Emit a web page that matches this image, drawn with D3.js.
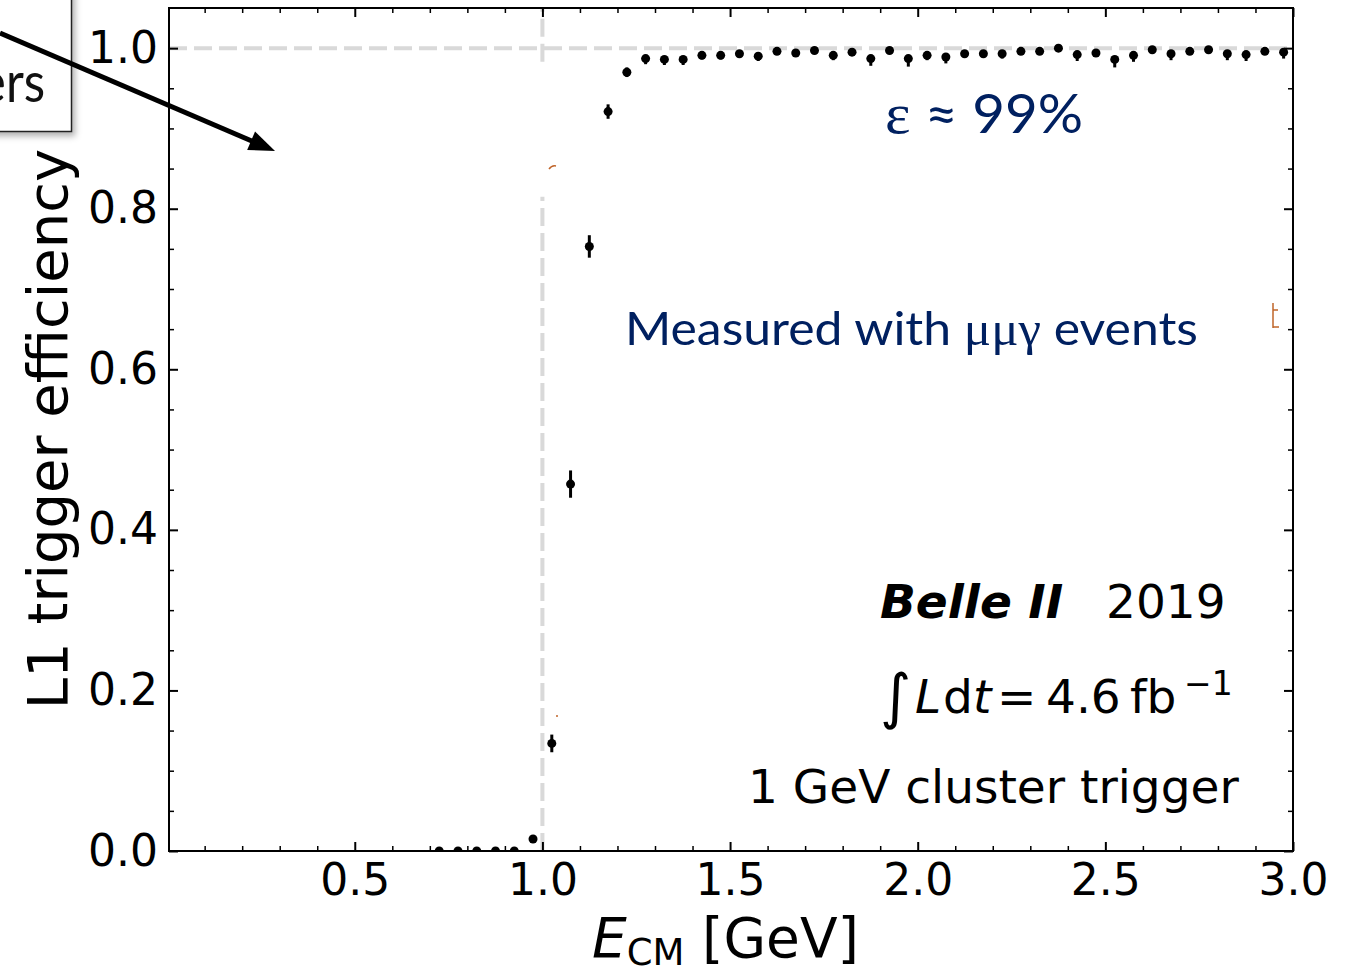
<!DOCTYPE html>
<html>
<head>
<meta charset="utf-8">
<script src="https://cdn.jsdelivr.net/npm/d3@7"></script>
<style>
  html, body { margin: 0; padding: 0; background: #fff; overflow: hidden; }
  svg { display: block; }
</style>
</head>
<body>
<svg id="chart" width="1347" height="966"></svg>
<script>
// bin centres of E_CM [GeV]
const energy = [
  0.725, 0.775, 0.825, 0.875, 0.925, 0.975, 1.025, 1.075, 1.125, 1.175,
  1.225, 1.275, 1.325, 1.375, 1.425, 1.475, 1.525, 1.575, 1.625, 1.675,
  1.725, 1.775, 1.825, 1.875, 1.925, 1.975, 2.025, 2.075, 2.125, 2.175,
  2.225, 2.275, 2.325, 2.375, 2.425, 2.475, 2.525, 2.575, 2.625, 2.675,
  2.725, 2.775, 2.825, 2.875, 2.925, 2.975
]
// L1 trigger efficiency per bin
const efficiency = [
  0.000, 0.000, 0.000, 0.000, 0.000, 0.015, 0.134, 0.457, 0.753, 0.921,
  0.970, 0.987, 0.986, 0.986, 0.991, 0.991, 0.993, 0.990, 0.996, 0.994,
  0.997, 0.991, 0.995, 0.987, 0.997, 0.987, 0.991, 0.989, 0.993, 0.993,
  0.993, 0.996, 0.996, 1.000, 0.992, 0.994, 0.986, 0.991, 0.998, 0.993,
  0.996, 0.998, 0.993, 0.992, 0.996, 0.995
]
const errLow = [
  0.000, 0.000, 0.000, 0.000, 0.000, 0.004, 0.011, 0.017, 0.014, 0.009,
  0.006, 0.007, 0.007, 0.007, 0.005, 0.005, 0.005, 0.006, 0.004, 0.005,
  0.004, 0.006, 0.004, 0.009, 0.004, 0.010, 0.006, 0.008, 0.005, 0.005,
  0.006, 0.004, 0.004, 0.003, 0.008, 0.005, 0.010, 0.008, 0.004, 0.008,
  0.004, 0.004, 0.008, 0.008, 0.004, 0.008
]
const errHigh = [
  0.004, 0.004, 0.004, 0.004, 0.004, 0.004, 0.011, 0.017, 0.014, 0.009,
  0.006, 0.003, 0.003, 0.003, 0.003, 0.003, 0.003, 0.003, 0.003, 0.003,
  0.003, 0.003, 0.003, 0.003, 0.003, 0.003, 0.003, 0.003, 0.003, 0.003,
  0.003, 0.003, 0.003, 0.003, 0.003, 0.003, 0.003, 0.003, 0.003, 0.003,
  0.003, 0.003, 0.003, 0.003, 0.003, 0.003
]
const xTicks = [0.5, 1.0, 1.5, 2.0, 2.5, 3.0]
const yTicks = [0.0, 0.2, 0.4, 0.6, 0.8, 1.0]
const refEnergy = 1.0
const refEff = 1.0
// the vertical reference line is partly hidden on the slide
const refEnergySpans = [[0, 0.815], [0.983, 1.05]]

const plot = {left: 169, right: 1293, top: 8, bottom: 851}
const x = d3.scaleLinear().domain([0.005, 3.0]).range([plot.left, plot.right])
const y = d3.scaleLinear().domain([0, 1.05]).range([plot.bottom, plot.top])

const svg = d3.select('#chart')
const defs = svg.append('defs')
defs.append('clipPath').attr('id', 'plotClip').append('rect')
  .attr('x', plot.left).attr('y', plot.top)
  .attr('width', plot.right - plot.left).attr('height', plot.bottom - plot.top)
defs.append('filter').attr('id', 'shadow')
  .attr('x', '-30%').attr('y', '-30%').attr('width', '160%').attr('height', '160%')
  .append('feDropShadow')
  .attr('dx', 3).attr('dy', 4).attr('stdDeviation', 3)
  .attr('flood-color', '#000').attr('flood-opacity', 0.3)

// dashed reference lines
const refG = svg.append('g').attr('clip-path', 'url(#plotClip)')
  .attr('stroke', '#d9d9d9').attr('stroke-width', 4).attr('stroke-dasharray', '18,7')
refG.append('line')
  .attr('x1', plot.left).attr('x2', plot.right)
  .attr('y1', y(refEff)).attr('y2', y(refEff))
refEnergySpans.forEach(([a, b]) => {
  refG.append('line')
    .attr('x1', x(refEnergy)).attr('x2', x(refEnergy))
    .attr('y1', y(a)).attr('y2', y(b))
})

// data points with error bars
const pts = energy.map((e, i) => ({e, v: efficiency[i], lo: errLow[i], hi: errHigh[i]}))
const dataG = svg.append('g').attr('clip-path', 'url(#plotClip)')
dataG.selectAll('line.err').data(pts).join('line').attr('class', 'err')
  .attr('x1', d => x(d.e)).attr('x2', d => x(d.e))
  .attr('y1', d => y(d.v - d.lo)).attr('y2', d => y(d.v + d.hi))
  .attr('stroke', '#000').attr('stroke-width', 3)
dataG.selectAll('circle').data(pts).join('circle')
  .attr('cx', d => x(d.e)).attr('cy', d => y(d.v))
  .attr('r', 4.5).attr('fill', '#000')

// axes, ticks pointing inwards on all four sides
const xMinor = d3.range(1, 30).map(i => i / 10).filter(v => Math.abs(v * 2 - Math.round(v * 2)) > 1e-6)
const yMinor = d3.range(1, 21).map(i => i / 20).filter(v => Math.abs(v * 5 - Math.round(v * 5)) > 1e-6)

function drawAxis(gen, tx, ty, labels) {
  const g = svg.append('g').attr('transform', `translate(${tx},${ty})`).call(gen)
  g.select('.domain').remove()
  g.selectAll('line').attr('stroke', '#000')
  g.attr('font-family', 'DejaVu Sans').attr('font-size', 44)
  g.selectAll('text').attr('fill', '#000')
  if (!labels) g.selectAll('text').remove()
  return g
}
const fmt = d3.format('.1f')
drawAxis(d3.axisBottom(x).tickValues(xTicks).tickSize(-9).tickPadding(13).tickFormat(fmt), 0, plot.bottom, true)
  .selectAll('line').attr('stroke-width', 2)
drawAxis(d3.axisBottom(x).tickValues(xMinor).tickSize(-5), 0, plot.bottom, false)
  .selectAll('line').attr('stroke-width', 1.5)
drawAxis(d3.axisTop(x).tickValues(xTicks).tickSize(-9), 0, plot.top, false)
  .selectAll('line').attr('stroke-width', 2)
drawAxis(d3.axisTop(x).tickValues(xMinor).tickSize(-5), 0, plot.top, false)
  .selectAll('line').attr('stroke-width', 1.5)
drawAxis(d3.axisLeft(y).tickValues(yTicks).tickSize(-9).tickPadding(11).tickFormat(fmt), plot.left, 0, true)
  .selectAll('line').attr('stroke-width', 2)
drawAxis(d3.axisLeft(y).tickValues(yMinor).tickSize(-5), plot.left, 0, false)
  .selectAll('line').attr('stroke-width', 1.5)
drawAxis(d3.axisRight(y).tickValues(yTicks).tickSize(-9), plot.right, 0, false)
  .selectAll('line').attr('stroke-width', 2)
drawAxis(d3.axisRight(y).tickValues(yMinor).tickSize(-5), plot.right, 0, false)
  .selectAll('line').attr('stroke-width', 1.5)

svg.append('rect')
  .attr('x', plot.left).attr('y', plot.top)
  .attr('width', plot.right - plot.left).attr('height', plot.bottom - plot.top)
  .attr('fill', 'none').attr('stroke', '#000').attr('stroke-width', 2)

// axis titles
svg.append('text')
  .attr('transform', 'translate(67,429) rotate(-90)')
  .attr('text-anchor', 'middle')
  .attr('font-family', 'DejaVu Sans').attr('font-size', 56).attr('fill', '#000')
  .text('L1 trigger efficiency')

const xl = svg.append('text').attr('x', 592).attr('y', 957)
  .attr('font-family', 'DejaVu Sans').attr('font-size', 55).attr('fill', '#000')
xl.append('tspan').attr('font-style', 'italic').text('E')
xl.append('tspan').attr('font-size', 37).attr('dy', 8).text('CM')
xl.append('tspan').attr('dy', -8).text(' [GeV]')

// matplotlib annotations
const ann = svg.append('g').attr('font-family', 'DejaVu Sans').attr('fill', '#000')
ann.append('text').attr('x', 880).attr('y', 618).attr('font-size', 47)
  .attr('font-weight', 'bold').attr('font-style', 'italic').text('Belle II')
ann.append('text').attr('x', 1106).attr('y', 618).attr('font-size', 47).text('2019')

const lum = ann.append('text').attr('y', 713).attr('font-size', 47)
lum.append('tspan').attr('x', 880).attr('font-size', 60).attr('dy', 4).text('\u222B')
lum.append('tspan').attr('x', 915).attr('dy', -4).attr('font-style', 'italic').text('L')
lum.append('tspan').attr('x', 943).text('d')
lum.append('tspan').attr('x', 973).attr('font-style', 'italic').text('t')
lum.append('tspan').attr('x', 997).text('=')
lum.append('tspan').attr('x', 1046).text('4.6')
lum.append('tspan').attr('x', 1130).text('fb')
lum.append('tspan').attr('x', 1184).attr('dy', -18).attr('font-size', 33).text('\u22121')

ann.append('text').attr('x', 748).attr('y', 803).attr('font-size', 47).text('1 GeV cluster trigger')

// slide overlay text (dark blue)
function fitText(sel, x0, x1) {
  const bb = sel.node().getBBox()
  const k = (x1 - x0) / bb.width
  sel.attr('transform', `translate(${x0},0) scale(${k},1) translate(${-bb.x},0)`)
}
const navy = '#002060'
const eps = svg.append('text').attr('x', 0).attr('y', 133)
  .attr('font-family', 'Lato').attr('font-size', 54).attr('fill', navy)
eps.append('tspan').attr('font-family', 'Liberation Serif').attr('font-size', 58).text('\u03B5')
eps.append('tspan').text(' \u2248 99%')
fitText(eps, 885, 1083)

const meas = svg.append('text').attr('x', 0).attr('y', 345)
  .attr('font-family', 'Lato').attr('font-size', 47).attr('fill', navy)
meas.append('tspan').text('Measured with ')
meas.append('tspan').attr('font-family', 'Liberation Serif').attr('font-size', 48).text('\u03BC\u03BC\u03B3')
meas.append('tspan').text(' events')
fitText(meas, 625, 1198)

// small orange remnants from the slide
const orange = '#c0652a'
svg.append('path').attr('d', 'M1273,303 V328 M1273,310 H1278 M1273,327 H1279')
  .attr('stroke', orange).attr('stroke-width', 1.5).attr('fill', 'none')
svg.append('path').attr('d', 'M549,169 Q552,165 556,166')
  .attr('stroke', orange).attr('stroke-width', 1.5).attr('fill', 'none')
svg.append('circle').attr('cx', 557).attr('cy', 716).attr('r', 1).attr('fill', orange)

// callout box and arrow
svg.append('rect').attr('x', -20).attr('y', -20).attr('width', 91.5).attr('height', 151.5)
  .attr('fill', '#fff').attr('stroke', '#222').attr('stroke-width', 1.5)
  .attr('filter', 'url(#shadow)')
svg.append('text').attr('transform', 'translate(45,102) scale(0.88,1)')
  .attr('text-anchor', 'end')
  .attr('font-family', 'Lato').attr('font-size', 56).attr('fill', '#111').text('ers')

const a0 = [0, 33], a1 = [275, 151]
const len = Math.hypot(a1[0] - a0[0], a1[1] - a0[1])
const ux = (a1[0] - a0[0]) / len, uy = (a1[1] - a0[1]) / len
const headL = 26, headW = 10
const bx = a1[0] - ux * headL, by = a1[1] - uy * headL
svg.append('line').attr('x1', a0[0]).attr('y1', a0[1]).attr('x2', bx + ux * 2).attr('y2', by + uy * 2)
  .attr('stroke', '#000').attr('stroke-width', 5)
svg.append('polygon')
  .attr('points', [[a1[0], a1[1]], [bx - uy * headW, by + ux * headW], [bx + uy * headW, by - ux * headW]].map(p => p.join(',')).join(' '))
  .attr('fill', '#000')
</script>
</body>
</html>
